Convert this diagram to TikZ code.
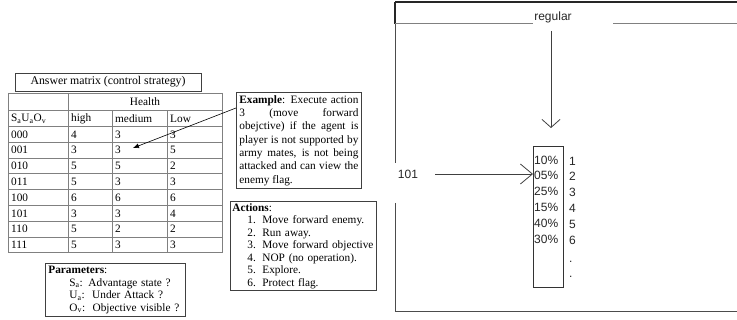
\documentclass[tikz,border=0pt]{standalone}
\usepackage{fontspec}
\setmainfont{Liberation Serif}
\newfontfamily\arialf{Liberation Sans}
\usetikzlibrary{arrows.meta}
\begin{document}
\begin{tikzpicture}[x=1pt,y=-1pt,
  tx/.style={inner sep=0pt, anchor=west, font=\fontsize{11.3}{13}\selectfont},
  sx/.style={inner sep=0pt, font=\arialf\fontsize{12}{14}\selectfont, text=black!85},
  gridline/.style={draw=black!50, line width=0.8pt},
  frameline/.style={draw=black!70, line width=1pt},
  bandline/.style={draw=black!50, line width=1pt},
  boxed/.style={draw=black!75, line width=0.8pt},
  vtip/.style={draw=black!75, line width=0.8pt, -{Straight Barb[length=8pt,width=18pt]}}
]
\useasboundingbox (0,0) rectangle (737,320);

% ---- Answer matrix title
\node[boxed, minimum width=186pt, minimum height=18pt, inner sep=0pt,
      font=\fontsize{11.8}{13}\selectfont] (title) at (108,82) {Answer matrix (control strategy)};

% ---- table grid
\foreach \yy in {93,110.5,126.5,142.3,158.1,173.9,189.7,205.5,221.3,237.1,252.9}
  \draw[gridline] (8,\yy) -- (222,\yy);
\draw[gridline] (8,93) -- (8,252.9);
\draw[gridline] (68,93) -- (68,252.9);
\draw[gridline] (112,110.5) -- (112,252.9);
\draw[gridline] (167,110.5) -- (167,252.9);
\draw[gridline] (222,93) -- (222,252.9);

\node[inner sep=0pt, font=\fontsize{11.3}{13}\selectfont] (health) at (145,102) {Health};
\node[tx] (h0) at (11,118.5) {S\textsubscript{a}U\textsubscript{a}O\textsubscript{v}};
\node[tx] (h1) at (71,118.5) {high};
\node[tx] (h2) at (115,118.5) {medium};
\node[tx] (h3) at (170,118.5) {Low};

\foreach [count=\i] \a/\b/\c/\d in {000/4/3/3,001/3/3/5,010/5/5/2,011/5/3/3,100/6/6/6,101/3/3/4,110/5/2/2,111/5/3/3}{
  \pgfmathsetmacro\yy{126.5+(\i-0.5)*15.8}
  \node[tx] (r\i-0) at (11,\yy) {\a};
  \node[tx] (r\i-1) at (71,\yy) {\b};
  \node[tx] (r\i-2) at (115,\yy) {\c};
  \node[tx] (r\i-3) at (170,\yy) {\d};
}

% ---- Example box
\node[boxed, anchor=north west, text width=119pt, align=justify, inner sep=3pt,
      font=\fontsize{11.3}{13.3}\selectfont] (ex) at (236,92)
 {\hyphenpenalty=10000\tolerance=9999\textbf{Example}: Execute action\linebreak
  3 (move forward\linebreak
  obejctive) if the agent is\linebreak
  player is not supported by\linebreak
  army mates, is not being\linebreak
  attacked and can view the\linebreak
  enemy flag.};
\coordinate (tip) at (133,148);
\draw[black, line width=0.6pt, -{Latex[length=6pt,width=5pt]}] ([yshift=-16pt]ex.north west) -- (tip);

% ---- Actions box
\node[boxed, anchor=north west, text width=142pt, align=left, inner sep=2pt,
      font=\fontsize{11.3}{12.5}\selectfont] (act) at (230,201)
 {\hyphenpenalty=10000\textbf{Actions}:\\
  \hspace*{15pt}\makebox[15pt][l]{1.}Move forward enemy.\\
  \hspace*{15pt}\makebox[15pt][l]{2.}Run away.\\
  \hspace*{15pt}\makebox[15pt][l]{3.}\mbox{Move forward objective}\\
  \hspace*{15pt}\makebox[15pt][l]{4.}NOP (no operation).\\
  \hspace*{15pt}\makebox[15pt][l]{5.}Explore.\\
  \hspace*{15pt}\makebox[15pt][l]{6.}Protect flag.};

% ---- Parameters box
\node[boxed, anchor=north west, text width=134pt, align=left, inner sep=3pt,
      font=\fontsize{11.3}{12.5}\selectfont] (par) at (45,263)
 {\textbf{Parameters}:\\
  \hspace*{21pt}S\textsubscript{a}: Advantage state ?\\
  \hspace*{21pt}U\textsubscript{a}:\ \ Under Attack ?\\
  \hspace*{21pt}O\textsubscript{v}:\ \ Objective visible ?};

% ---- right diagram frame
\draw[draw=black!85, line width=1.8pt] (395,2) -- (737,2);
\draw[draw=black!85, line width=1.8pt] (395,2) -- (395,24);
\draw[frameline] (395,24) -- (395,163);
\draw[frameline] (395,203) -- (395,312) -- (737,312);
\node[sx] (reg) at (553,17) {regular};
\draw[bandline] (395,24) -- (533,24);
\draw[bandline] (613,24) -- (737,24);

% percentage box
\node[boxed, draw=black!80, anchor=north west, minimum width=30pt, minimum height=141pt, inner sep=0pt] (pb) at (533,146) {};
\foreach [count=\i] \p/\yy in {10\%/160,05\%/175.5,25\%/191.5,15\%/207,40\%/223,30\%/239}{
  \node[sx, anchor=west] (p\i) at (534,\yy) {\p};
  \node[sx, anchor=west] (n\i) at (569,\yy+1) {\i};
}
\node[sx, anchor=west] (d1) at (569,262) {.};
\node[sx, anchor=west] (d2) at (569,277) {.};

% arrows
\coordinate (dstart) at (551,31);
\coordinate (dtip) at (551,128);
\draw[vtip] (dstart) -- (dtip);
\node[sx] (in101) at (408,174) {101};
\draw[vtip, -{Straight Barb[length=12pt,width=20pt]}] ([xshift=17pt]in101.east) -- (pb.west |- in101);
\end{tikzpicture}
\end{document}
